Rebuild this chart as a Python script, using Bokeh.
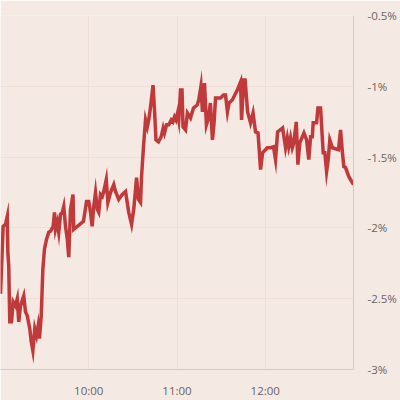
import pandas as pd
from bokeh.plotting import figure
from bokeh.models import FixedTicker, DatetimeTickFormatter
from bokeh.embed import file_html
from bokeh.resources import INLINE

# minutes after 09:00 and change in percent
minutes = [0, 1.8, 3.4, 4.6, 5.0, 5.6, 6.3, 7.5, 8.6, 10.2, 11.4, 12.4, 13.6, 15.8, 17.0,
           18.2, 19.9, 20.9, 22.0, 23.3, 24.5, 25.6, 26.5, 27.7, 28.8, 29.9, 31.3, 32.8,
           34.0, 35.8, 36.7, 37.4, 38.6, 39.6, 40.8, 42.0, 43.0, 44.2, 45.4, 46.4, 47.6,
           49.3, 49.8, 56.4, 58.5, 60.0, 61.2, 62.3, 63.4, 64.6, 65.8, 66.8, 68.0, 69.2,
           70.2, 71.9, 73.0, 74.8, 77.0, 78.2, 80.4, 82.8, 85.0, 87.2, 89.1, 90.6, 92.5,
           93.8, 95.2, 95.9, 97.2, 98.6, 99.8, 100.8, 102.0, 103.7, 104.7, 105.7, 107.4,
           109.2, 110.6, 111.5, 112.9, 114.4, 116.1, 117.2, 118.3, 119.3, 120.4, 121.2,
           122.4, 123.4, 124.1, 125.8, 127.1, 128.0, 129.2, 131.2, 133.7, 134.8, 136.3,
           137.3, 138.7, 140.0, 141.4, 142.7, 144.1, 145.1, 146.2, 149.6, 151.6, 153.0,
           154.3, 155.4, 157.6, 161.0, 163.2, 163.9, 165.3, 166.3, 168.0, 170.0, 171.7,
           173.4, 175.1, 176.8, 178.2, 181.4, 183.6, 185.6, 187.0, 188.4, 191.8, 193.8,
           195.0, 196.0, 197.2, 198.4, 199.4, 201.1, 202.2, 203.5, 206.3, 208.1, 209.6,
           210.8, 212.0, 212.6, 214.9, 215.8, 217.6, 219.4, 220.5, 221.7, 222.8, 223.9,
           225.7, 227.8, 229.8, 231.2, 232.3, 233.4, 234.6, 236.8, 240.0]
change_pct = [-2.466, -1.989, -1.975, -1.919, -2.171, -2.270, -2.663, -2.663, -2.522, -2.551,
              -2.501, -2.663, -2.551, -2.480, -2.593, -2.621, -2.712, -2.803, -2.867, -2.712,
              -2.761, -2.691, -2.782, -2.621, -2.291, -2.150, -2.080, -2.031, -2.024, -1.989,
              -1.890, -2.010, -1.961, -2.031, -1.904, -1.890, -1.848, -1.989, -2.080, -2.206,
              -1.869, -1.764, -2.010, -1.954, -1.813, -1.813, -1.890, -1.989, -1.848, -1.750,
              -1.869, -1.890, -1.764, -1.778, -1.743, -1.659, -1.820, -1.750, -1.694, -1.743,
              -1.799, -1.764, -1.743, -1.890, -1.975, -1.869, -1.645, -1.799, -1.820, -1.638,
              -1.427, -1.237, -1.287, -1.237, -1.146, -0.992, -1.167, -1.378, -1.392, -1.357,
              -1.294, -1.329, -1.272, -1.272, -1.237, -1.251, -1.216, -1.237, -1.188, -1.237,
              -1.027, -1.027, -1.287, -1.308, -1.188, -1.202, -1.223, -1.153, -1.132, -1.097,
              -0.999, -1.181, -0.978, -1.272, -1.223, -1.118, -1.378, -1.272, -1.083, -1.083,
              -1.062, -1.062, -1.181, -1.118, -1.097, -1.027, -0.970, -1.237, -0.956, -0.956,
              -1.181, -1.258, -1.188, -1.322, -1.329, -1.588, -1.469, -1.434, -1.434, -1.427,
              -1.518, -1.322, -1.294, -1.434, -1.364, -1.427, -1.364, -1.434, -1.399, -1.251,
              -1.553, -1.399, -1.329, -1.378, -1.518, -1.357, -1.357, -1.258, -1.258, -1.153,
              -1.153, -1.469, -1.469, -1.603, -1.518, -1.378, -1.434, -1.441, -1.448, -1.308,
              -1.448, -1.567, -1.574, -1.638, -1.694]

y_ticks = [-0.5, -1.0, -1.5, -2.0, -2.5, -3.0]
y_tick_labels = ["-0.5%", "-1%", "-1.5%", "-2%", "-2.5%", "-3%"]
x_tick_times = ["10:00", "11:00", "12:00"]
day = "2024-01-02"

start = pd.Timestamp(day + " 09:00")
times = [start + pd.Timedelta(minutes=m) for m in minutes]
x_ticks_ms = [pd.Timestamp(day + " " + t).value / 1e6 for t in x_tick_times]

bg = "#f5e9e3"
p = figure(width=400, height=400, x_axis_type="datetime", y_axis_location="right",
           output_backend="svg", toolbar_location=None,
           x_range=(start, start + pd.Timedelta(hours=4)), y_range=(-3.0, -0.5),
           min_border_left=0, min_border_right=47, min_border_top=15, min_border_bottom=29)
p.background_fill_color = bg
p.border_fill_color = bg
p.outline_line_color = None

p.line(times, change_pct, line_color="#c0393b", line_width=3.5, line_join="miter")

grid_color = "#efdfd6"
p.xgrid.grid_line_color = grid_color
p.ygrid.grid_line_color = grid_color
p.xaxis.ticker = FixedTicker(ticks=x_ticks_ms)
p.xaxis.formatter = DatetimeTickFormatter(hours="%H:%M", minutes="%H:%M", days="%H:%M")
p.yaxis.ticker = FixedTicker(ticks=y_ticks)
p.yaxis.major_label_overrides = dict(zip(y_ticks, y_tick_labels))

for ax in (p.xaxis[0], p.yaxis[0]):
    ax.axis_line_color = "#d9c8bf"
    ax.axis_line_width = 1
    ax.major_tick_line_color = None
    ax.minor_tick_line_color = None
    ax.major_label_text_font = "Open Sans"
    ax.major_label_text_font_size = "11.5px"
    ax.major_label_text_color = "#6a6462"
p.yaxis.major_label_standoff = 8
p.xaxis.major_label_standoff = 7

open("out.html", "w").write(file_html(p, INLINE))
